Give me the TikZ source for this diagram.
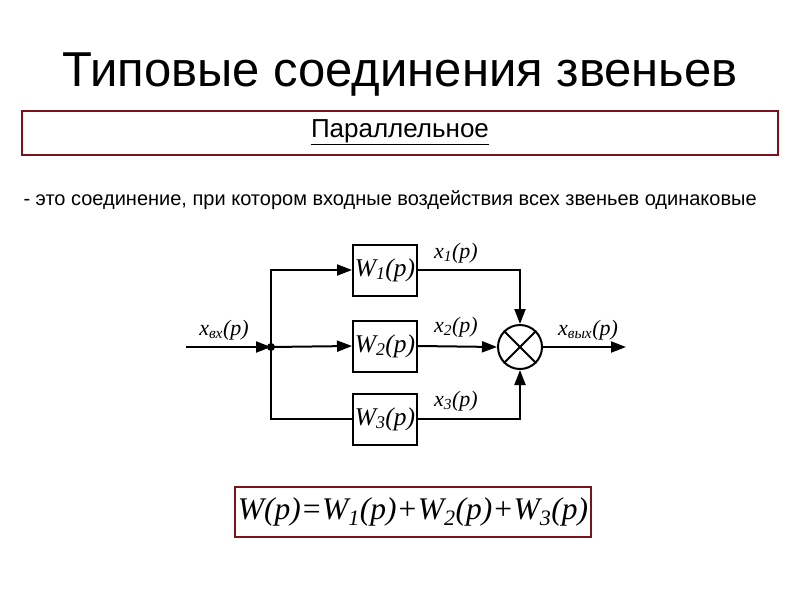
\documentclass[tikz,border=0pt]{standalone}
\usepackage{fontspec}
\setmainfont{Liberation Sans}
\newfontfamily\serifit{Liberation Serif}[ItalicFont=* Italic]
\usetikzlibrary{arrows.meta}
\definecolor{frame}{RGB}{120,20,30}
\newcommand{\sbs}[1]{\textsubscript{#1}}
\begin{document}
\begin{tikzpicture}[x=1pt,y=-1pt,
  blk/.style={draw,line width=2pt,minimum width=64pt,minimum height=51pt,inner sep=0pt,font=\serifit\itshape\fontsize{25.5}{25.5}\selectfont},
  lbl/.style={font=\serifit\itshape\fontsize{22}{22}\selectfont,inner sep=0pt},
  ln/.style={line width=2pt},
  arr/.style={ln,-{Triangle[length=15pt,width=11pt]}}]
\useasboundingbox (0,0) rectangle (800,600);
\node (title) at (400,75) {\fontsize{49}{49}\selectfont Типовые соединения звеньев};
\node[draw=frame,line width=2pt,minimum width=756pt,minimum height=44pt] (box) at (400,133) {};
\node at (400,132) {\fontsize{26}{26}\selectfont\underline{Параллельное}};
\node[anchor=west] (def) at (20,200) {\fontsize{20}{20}\selectfont - это соединение, при котором входные воздействия всех звеньев одинаковые};
\node[blk] (w1) at (385,270) {W\sbs{1}(p)};
\node[blk] (w2) at (385,346) {W\sbs{2}(p)};
\node[blk] (w3) at (385,419) {W\sbs{3}(p)};
\node[draw,ln,circle,minimum size=44pt,inner sep=0pt] (s) at (520,347) {};
\draw[ln] (s.north west) -- (s.south east) (s.north east) -- (s.south west);
\coordinate (in) at (186,347);
\coordinate (j) at (271,347);
\coordinate (out) at (626,347);
\fill (j) circle (4pt);
\draw[arr] (in) -- (j);
\draw[arr] (j) -- (w2.west);
\draw[arr] (j) |- (w1.west);
\draw[ln] (j) |- (w3.west);
\draw[arr] (w1.east) -| (s.north);
\draw[arr] (w2.east) -- (s.west);
\draw[arr] (w3.east) -| (s.south);
\draw[arr] (s.east) -- (out);
\node[lbl] (lx1) at (456,253) {x\sbs{1}(p)};
\node[lbl] (lx2) at (456,327) {x\sbs{2}(p)};
\node[lbl] (lx3) at (456,401) {x\sbs{3}(p)};
\node[lbl] (lin) at (224,330) {x\sbs{вх}(p)};
\node[lbl] (lout) at (588,330) {x\sbs{вых}(p)};
\node[draw=frame,line width=2pt,minimum width=356pt,minimum height=50pt,font=\serifit\itshape\fontsize{31.5}{31.5}\selectfont] (f) at (413,512) {W(p)=W\sbs{1}(p)+W\sbs{2}(p)+W\sbs{3}(p)};
\end{tikzpicture}
\end{document}
